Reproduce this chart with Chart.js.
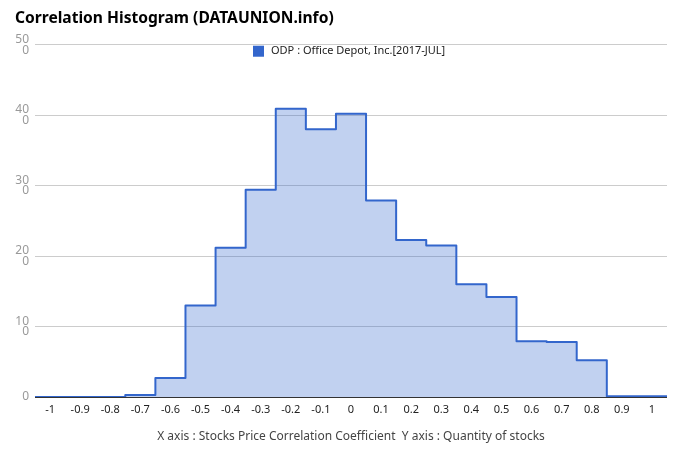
<!DOCTYPE html>
<html>
<head>
<meta charset="utf-8">
<script src="https://cdn.jsdelivr.net/npm/chart.js@4.4.1/dist/chart.umd.min.js"></script>
<style>
  html, body { margin: 0; padding: 0; background: #fff; }
  #wrap { width: 680px; height: 462px; }
</style>
</head>
<body>
<div id="wrap"><canvas id="histChart"></canvas></div>
<script>
// === Daten ===
const BIN_CENTERS = [-1, -0.9, -0.8, -0.7, -0.6, -0.5, -0.4, -0.3, -0.2, -0.1, 0, 0.1, 0.2, 0.3, 0.4, 0.5, 0.6, 0.7, 0.8, 0.9, 1];
const STOCK_COUNTS = [0, 0, 0, 3, 27, 130, 212, 294, 409, 380, 402, 279, 223, 215, 160, 142, 79, 78, 52, 1, 1];
const X_TICKS = [-1, -0.9, -0.8, -0.7, -0.6, -0.5, -0.4, -0.3, -0.2, -0.1, 0, 0.1, 0.2, 0.3, 0.4, 0.5, 0.6, 0.7, 0.8, 0.9, 1];
const Y_TICKS = [0, 100, 200, 300, 400, 500];
const BIN_HALF = 0.05;

const SERIES_LABEL = "ODP : Office Depot, Inc.[2017-JUL]";
const TITLE = "Correlation Histogram (DATAUNION.info)";
const AXIS_NOTE = "X axis : Stocks Price Correlation Coefficient  Y axis : Quantity of stocks";

// Stufen: linke Binkante + Wert, am Ende die rechte Kante
const r2 = (v) => Math.round(v * 1000) / 1000;
const stepPoints = BIN_CENTERS.map((c, i) => ({ x: r2(c - BIN_HALF), y: STOCK_COUNTS[i] }));
stepPoints.push({ x: r2(BIN_CENTERS[BIN_CENTERS.length - 1] + BIN_HALF), y: STOCK_COUNTS[STOCK_COUNTS.length - 1] });

const FONT = "'Noto Sans', sans-serif";

// Legende oben in der Plotfläche (wie im Original, ohne eigenen Platz)
const inlineLegend = {
  id: "inlineLegend",
  afterDraw(chart) {
    const { ctx, chartArea } = chart;
    ctx.save();
    ctx.font = `11px ${FONT}`;
    const textW = ctx.measureText(SERIES_LABEL).width;
    const total = 11 + 7 + textW;
    const x0 = Math.round((chartArea.left + chartArea.right) / 2 - total / 2) - 2;
    const y0 = chartArea.top + 1;
    ctx.fillStyle = "#3366cc";
    ctx.fillRect(x0, y0, 11, 11);
    ctx.fillStyle = "#222";
    ctx.textBaseline = "middle";
    ctx.fillText(SERIES_LABEL, x0 + 18, y0 + 5.5);
    ctx.restore();
  },
};

new Chart(document.getElementById("histChart"), {
  type: "line",
  data: {
    datasets: [
      {
        label: SERIES_LABEL,
        data: stepPoints,
        stepped: "before",
        borderColor: "#3366cc",
        backgroundColor: "rgba(51, 102, 204, 0.3)",
        borderWidth: 2,
        borderJoinStyle: "round",
        pointRadius: 0,
        fill: "origin",
      },
    ],
  },
  options: {
    responsive: true,
    maintainAspectRatio: false,
    animation: false,
    layout: { padding: { left: 15, right: 13, top: 0, bottom: 0 } },
    scales: {
      x: {
        type: "linear",
        min: -1.05,
        max: 1.05,
        afterBuildTicks: (scale) => {
          scale.ticks = X_TICKS.map((v) => ({ value: v }));
        },
        afterFit: (scale) => { scale.height = 65; },
        grid: { display: false, drawTicks: false },
        border: { display: false },
        ticks: {
          padding: 6,
          autoSkip: false,
          maxRotation: 0,
          color: "#222",
          font: { family: FONT, size: 11 },
          callback: (v) => String(r2(v)),
        },
        title: {
          display: true,
          text: AXIS_NOTE,
          color: "#444",
          font: { family: FONT, size: 12 },
          padding: { top: 4, bottom: 18 },
        },
      },
      y: {
        min: 0,
        max: 500,
        afterBuildTicks: (scale) => {
          scale.ticks = Y_TICKS.map((v) => ({ value: v }));
        },
        afterFit: (scale) => { scale.width = 20; },
        border: { display: false },
        grid: {
          drawTicks: false,
          color: (ctx) => (ctx.tick && ctx.tick.value === 0 ? "#333" : "#ccc"),
        },
        ticks: {
          padding: 6,
          color: "#999",
          font: { family: FONT, size: 12, lineHeight: 0.9 },
          // wie im Original: dreistellige Labels umgebrochen
          callback: (v) => {
            const s = String(v);
            return s.length > 2 ? [s.slice(0, 2), s.slice(2)] : s;
          },
        },
      },
    },
    plugins: {
      title: {
        display: true,
        text: TITLE,
        align: "start",
        color: "#000",
        font: { family: FONT, size: 15.6, weight: "bold", lineHeight: 1.2 },
        padding: { top: 9, bottom: 17 },
      },
      legend: { display: false },
      tooltip: { enabled: false },
    },
  },
  plugins: [inlineLegend],
});
</script>
</body>
</html>
